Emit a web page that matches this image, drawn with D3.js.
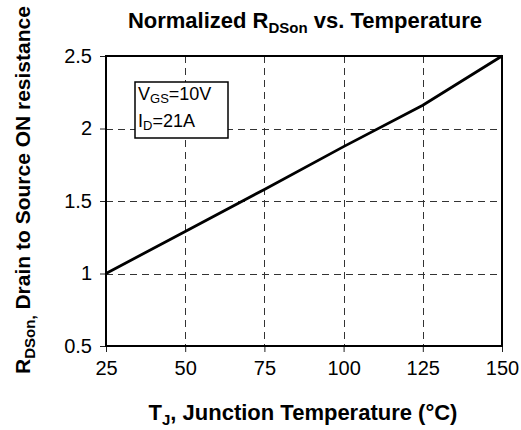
<!DOCTYPE html>
<html>
<head>
<meta charset="utf-8">
<script src="https://cdn.jsdelivr.net/npm/d3@7"></script>
<style>
  body { margin: 0; background: #fff; }
  svg { display: block; font-family: "Liberation Sans", Arial, sans-serif; }
</style>
</head>
<body>
<svg id="chart" width="521" height="430"></svg>
<script>
// Normalized RDSon vs junction temperature
const temps = [25, 50, 75, 100, 125, 150];
const rdson = [1.0, 1.29, 1.58, 1.875, 2.16, 2.5];
const xTicks = [25, 50, 75, 100, 125, 150];
const yTicks = [0.5, 1, 1.5, 2, 2.5];

const svg = d3.select('#chart');
const m = { left: 106, right: 502, top: 56, bottom: 346 };

const x = d3.scaleLinear().domain([25, 150]).range([m.left, m.right]);
const y = d3.scaleLinear().domain([0.5, 2.5]).range([m.bottom, m.top]);

// grid
const grid = svg.append('g')
  .attr('stroke', '#333')
  .attr('stroke-width', 1)
  .attr('stroke-dasharray', '7,5');
grid.selectAll('.gx').data(xTicks.slice(1, -1)).enter().append('line')
  .attr('x1', d => Math.round(x(d)) + 0.5).attr('x2', d => Math.round(x(d)) + 0.5)
  .attr('y1', m.top).attr('y2', m.bottom);
grid.selectAll('.gy').data(yTicks.slice(1, -1)).enter().append('line')
  .attr('y1', d => Math.round(y(d)) + 0.5).attr('y2', d => Math.round(y(d)) + 0.5)
  .attr('x1', m.left).attr('x2', m.right);

// axes
const xAxis = svg.append('g')
  .attr('transform', `translate(0,${m.bottom})`)
  .call(d3.axisBottom(x).tickValues(xTicks).tickSize(6).tickSizeOuter(0).tickPadding(9));
const yAxis = svg.append('g')
  .attr('transform', `translate(${m.left},0)`)
  .call(d3.axisLeft(y).tickValues(yTicks).tickSize(6).tickSizeOuter(0).tickPadding(8)
    .tickFormat(d3.format('')));
[xAxis, yAxis].forEach(a => {
  a.select('.domain').remove();
  a.selectAll('line').attr('stroke', '#222');
  a.selectAll('text').attr('font-size', 20).attr('fill', '#000')
    .attr('font-family', '"Liberation Sans", Arial, sans-serif');
});

// frame
svg.append('rect')
  .attr('x', m.left).attr('y', m.top)
  .attr('width', m.right - m.left).attr('height', m.bottom - m.top)
  .attr('fill', 'none').attr('stroke', '#000').attr('stroke-width', 2);

// curve
const line = d3.line().x((d, i) => x(temps[i])).y(d => y(d));
svg.append('path')
  .datum(rdson)
  .attr('d', line)
  .attr('fill', 'none')
  .attr('stroke', '#000')
  .attr('stroke-width', 2.8);

// legend box
const lg = svg.append('g').attr('transform', 'translate(135,82)');
lg.append('rect').attr('width', 93).attr('height', 56)
  .attr('fill', '#fff').attr('stroke', '#000').attr('stroke-width', 1.5);
const l1 = lg.append('text').attr('x', 3).attr('y', 18).attr('font-size', 18);
l1.append('tspan').text('V');
l1.append('tspan').attr('font-size', 13).attr('dy', 3).text('GS');
l1.append('tspan').attr('dy', -3).text('=10V');
const l2 = lg.append('text').attr('x', 3).attr('y', 45).attr('font-size', 18);
l2.append('tspan').text('I');
l2.append('tspan').attr('font-size', 13).attr('dy', 3).text('D');
l2.append('tspan').attr('dy', -3).text('=21A');

// title
const t = svg.append('text').attr('x', 305).attr('y', 28)
  .attr('text-anchor', 'middle').attr('font-size', 22).attr('font-weight', 'bold');
t.append('tspan').text('Normalized R');
t.append('tspan').attr('font-size', 15).attr('dy', 5).text('DSon');
t.append('tspan').attr('dy', -5).text(' vs. Temperature');

// x label
const xl = svg.append('text').attr('x', 303).attr('y', 420)
  .attr('text-anchor', 'middle').attr('font-size', 22).attr('font-weight', 'bold');
xl.append('tspan').text('T');
xl.append('tspan').attr('font-size', 15).attr('dy', 5).text('J');
xl.append('tspan').attr('dy', -5).text(', Junction Temperature (°C)');

// y label
const yl = svg.append('text')
  .attr('transform', 'translate(30,190) rotate(-90)')
  .attr('text-anchor', 'middle').attr('font-size', 21).attr('font-weight', 'bold');
yl.append('tspan').text('R');
yl.append('tspan').attr('font-size', 15).attr('dy', 5).text('DSon,');
yl.append('tspan').attr('dy', -5).text('  Drain to Source ON resistance');
</script>
</body>
</html>
